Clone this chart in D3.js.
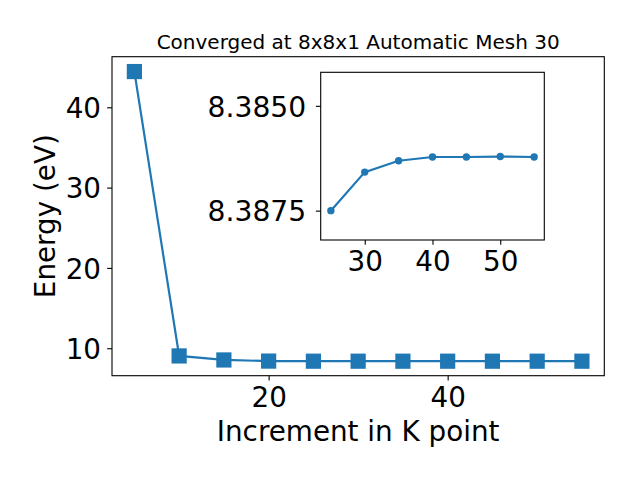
<!DOCTYPE html>
<html><head><meta charset="utf-8">
<script src="https://cdn.jsdelivr.net/npm/d3@7"></script>
<style>body{margin:0;background:#fff}svg{display:block}text{font-family:"DejaVu Sans",sans-serif;fill:#000}</style>
</head><body><svg id="c" width="640" height="480"></svg>
<script>
const kPoints = [5,10,15,20,25,30,35,40,45,50,55];
const energies = [44.45,9.04,8.54,8.40,8.3875,8.38658,8.38631,8.38622,8.38622,8.38621,8.38622];
const insetK = [25,30,35,40,45,50,55];
const insetE = [8.3875,8.38658,8.38631,8.38622,8.38622,8.38621,8.38622];
const mainXTicks = [20,40];
const mainYTicks = [10,20,30,40];
const insetXTicks = [30,40,50];
const insetYTicks = [8.3850,8.3875];
const titleText = "Converged at 8x8x1 Automatic Mesh 30";
const xLabel = "Increment in K point";
const yLabel = "Energy (eV)";

const svg = d3.select("#c");
const color = "#1f77b4";
const M = {l:112, r:604.3, t:56.7, b:375.7};
const x = d3.scaleLinear().domain([2.5,57.5]).range([M.l,M.r]);
const y = d3.scaleLinear().domain([6.58,46.3]).range([M.b,M.t]);

const main = svg.append("g");
const xa = main.append("g").attr("transform",`translate(0,${M.b})`)
  .call(d3.axisBottom(x).tickValues(mainXTicks).tickSize(4.86).tickPadding(0).tickFormat(d3.format("d")));
xa.select(".domain").remove();
xa.selectAll("line").attr("stroke","#000").attr("stroke-width",1.1);
xa.selectAll("text").attr("y",31.3).attr("dy",null).style("font-size","27.8px");
const ya = main.append("g").attr("transform",`translate(${M.l},0)`)
  .call(d3.axisLeft(y).tickValues(mainYTicks).tickSize(4.86).tickPadding(0).tickFormat(d3.format("d")));
ya.select(".domain").remove();
ya.selectAll("line").attr("stroke","#000").attr("stroke-width",1.1);
ya.selectAll("text").attr("x",-11).attr("dy","0.3645em").style("font-size","27.8px");

main.append("path").datum(kPoints.map((k,i)=>[k,energies[i]]))
  .attr("fill","none").attr("stroke",color).attr("stroke-width",2.2)
  .attr("d",d3.line().x(d=>x(d[0])).y(d=>y(d[1])));
main.selectAll("rect.pt").data(kPoints.map((k,i)=>[k,energies[i]])).join("rect")
  .attr("class","pt").attr("x",d=>x(d[0])-7.6).attr("y",d=>y(d[1])-7.6)
  .attr("width",15.2).attr("height",15.2).attr("fill",color);
main.append("rect").attr("x",M.l).attr("y",M.t).attr("width",M.r-M.l).attr("height",M.b-M.t)
  .attr("fill","none").attr("stroke","#000").attr("stroke-width",1.1);

svg.append("text").attr("x",(M.l+M.r)/2).attr("y",48.8).attr("text-anchor","middle")
  .style("font-size","20px").text(titleText);
svg.append("text").attr("x",(M.l+M.r)/2).attr("y",441).attr("text-anchor","middle")
  .style("font-size","27.8px").text(xLabel);
svg.append("text").attr("transform",`translate(54.5,${(M.t+M.b)/2}) rotate(-90)`).attr("text-anchor","middle")
  .style("font-size","27.8px").text(yLabel);

const I = {l:320.7, r:544.3, t:72.3, b:240};
const xi = d3.scaleLinear().domain([23.5,56.5]).range([I.l,I.r]);
const yi = d3.scaleLinear().domain([8.3842,8.3882]).range([I.t,I.b]);
const ins = svg.append("g");
ins.append("rect").attr("x",I.l).attr("y",I.t).attr("width",I.r-I.l).attr("height",I.b-I.t).attr("fill","#fff");
const xia = ins.append("g").attr("transform",`translate(0,${I.b})`)
  .call(d3.axisBottom(xi).tickValues(insetXTicks).tickSize(4.86).tickPadding(0).tickFormat(d3.format("d")));
xia.select(".domain").remove();
xia.selectAll("line").attr("stroke","#000").attr("stroke-width",1.1);
xia.selectAll("text").attr("y",31.3).attr("dy",null).style("font-size","27.8px");
const yia = ins.append("g").attr("transform",`translate(${I.l},0)`)
  .call(d3.axisLeft(yi).tickValues(insetYTicks).tickSize(4.86).tickPadding(0).tickFormat(d3.format(".4f")));
yia.select(".domain").remove();
yia.selectAll("line").attr("stroke","#000").attr("stroke-width",1.1);
yia.selectAll("text").attr("x",-14.5).attr("dy","0.3645em").style("font-size","28.2px");
const idata = insetK.map((k,i)=>[k,insetE[i]]);
ins.append("path").datum(idata).attr("fill","none").attr("stroke",color).attr("stroke-width",2.2)
  .attr("d",d3.line().x(d=>xi(d[0])).y(d=>yi(d[1])));
ins.selectAll("circle").data(idata).join("circle")
  .attr("cx",d=>xi(d[0])).attr("cy",d=>yi(d[1])).attr("r",3.7).attr("fill",color);
ins.append("rect").attr("x",I.l).attr("y",I.t).attr("width",I.r-I.l).attr("height",I.b-I.t)
  .attr("fill","none").attr("stroke","#000").attr("stroke-width",1.1);
</script></body></html>
